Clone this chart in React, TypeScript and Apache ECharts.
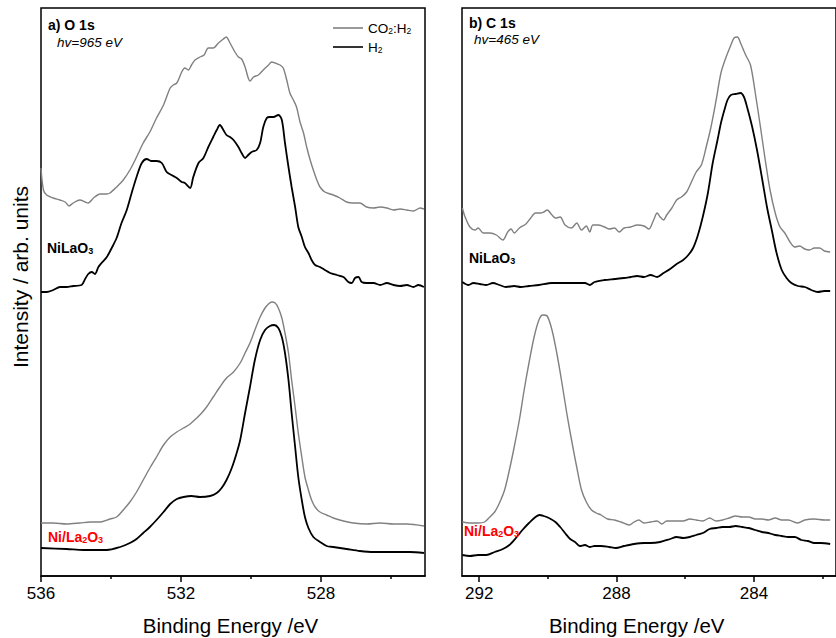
import React, { useEffect, useRef } from "react";
import * as echarts from "echarts";

// ---- Data: [binding energy (eV), intensity (arb. units)] ----
// a) O 1s, NiLaO3 under CO2:H2 (grey)
const o1sCo2NiLaO3: [number, number][] = [
  [536.0, 408], [535.93, 386], [535.84, 381], [535.65, 378], [535.46, 376], [535.31, 374], [535.2, 370], [535.08, 373],
  [534.89, 376], [534.74, 374], [534.65, 373], [534.5, 378], [534.31, 382], [534.12, 382], [534.03, 383], [533.84, 389],
  [533.65, 396], [533.46, 406], [533.27, 419], [533.08, 433], [532.89, 444], [532.7, 458], [532.5, 471], [532.31, 488],
  [532.22, 491], [532.12, 493], [531.98, 504], [531.89, 508], [531.79, 506], [531.7, 511], [531.6, 516], [531.46, 519],
  [531.34, 521], [531.22, 528], [531.08, 528], [530.93, 533], [530.79, 537], [530.71, 539], [530.6, 533], [530.46, 524],
  [530.36, 519], [530.27, 517], [530.17, 509], [530.08, 498], [530.03, 495], [529.93, 499], [529.79, 501], [529.65, 506],
  [529.5, 511], [529.41, 514], [529.31, 513], [529.17, 511], [529.08, 508], [528.98, 496], [528.89, 483], [528.79, 476],
  [528.7, 469], [528.6, 454], [528.5, 443], [528.41, 429], [528.31, 416], [528.22, 406], [528.12, 396], [528.03, 389],
  [527.89, 384], [527.65, 381], [527.46, 378], [527.27, 374], [527.08, 373], [526.89, 373], [526.7, 369], [526.5, 368],
  [526.31, 369], [526.12, 368], [525.93, 366], [525.74, 367], [525.55, 366], [525.36, 365], [525.17, 368], [525.06, 367],
];
// a) O 1s, NiLaO3 under H2 (black)
const o1sH2NiLaO3: [number, number][] = [
  [536.0, 284], [535.84, 284], [535.65, 286], [535.46, 289], [535.27, 289], [535.08, 290], [534.84, 291], [534.74, 297],
  [534.65, 302], [534.55, 304], [534.46, 302], [534.36, 309], [534.27, 313], [534.12, 319], [533.98, 328], [533.84, 338],
  [533.7, 353], [533.55, 366], [533.41, 383], [533.27, 399], [533.12, 413], [532.98, 417], [532.84, 415], [532.7, 415],
  [532.55, 413], [532.41, 404], [532.27, 401], [532.12, 398], [531.98, 394], [531.89, 393], [531.74, 388], [531.65, 399],
  [531.5, 413], [531.36, 418], [531.22, 429], [531.08, 439], [530.98, 446], [530.89, 451], [530.79, 446], [530.7, 441],
  [530.6, 439], [530.5, 436], [530.36, 429], [530.27, 423], [530.17, 418], [530.08, 421], [529.98, 424], [529.84, 426],
  [529.74, 433], [529.65, 449], [529.55, 458], [529.46, 459], [529.36, 459], [529.22, 461], [529.12, 456], [529.03, 433],
  [528.93, 409], [528.84, 389], [528.74, 369], [528.65, 349], [528.55, 339], [528.46, 329], [528.36, 323], [528.27, 316],
  [528.17, 311], [528.03, 309], [527.89, 306], [527.74, 303], [527.55, 301], [527.36, 299], [527.22, 294], [527.12, 293],
  [527.03, 298], [526.93, 299], [526.84, 294], [526.7, 293], [526.5, 293], [526.31, 291], [526.12, 293], [525.93, 291],
  [525.74, 290], [525.55, 291], [525.36, 289], [525.22, 291], [525.06, 289],
];
// a) O 1s, Ni/La2O3 under CO2:H2 (grey)
const o1sCo2NiLa2O3: [number, number][] = [
  [536.0, 53], [535.65, 53], [535.27, 52], [534.89, 53], [534.6, 54], [534.31, 54], [534.03, 57], [533.84, 59],
  [533.65, 66], [533.46, 74], [533.27, 84], [533.08, 96], [532.89, 108], [532.7, 119], [532.5, 131], [532.31, 139],
  [532.12, 144], [531.93, 148], [531.74, 152], [531.55, 158], [531.41, 163], [531.27, 169], [531.08, 179], [530.89, 189],
  [530.7, 198], [530.5, 204], [530.31, 213], [530.17, 223], [530.03, 233], [529.89, 246], [529.74, 259], [529.6, 268],
  [529.5, 272], [529.41, 274], [529.31, 273], [529.22, 268], [529.12, 258], [529.03, 243], [528.93, 223], [528.84, 196],
  [528.74, 169], [528.65, 143], [528.55, 119], [528.46, 99], [528.36, 86], [528.27, 76], [528.17, 69], [528.03, 64],
  [527.84, 61], [527.65, 58], [527.36, 55], [527.08, 53], [526.7, 52], [526.31, 53], [525.93, 52], [525.55, 52],
  [525.06, 50],
];
// a) O 1s, Ni/La2O3 under H2 (black)
const o1sH2NiLa2O3: [number, number][] = [
  [536.0, 28], [535.27, 27], [534.79, 26], [534.12, 26], [533.74, 29], [533.46, 33], [533.27, 37], [533.08, 43],
  [532.89, 49], [532.7, 56], [532.5, 64], [532.31, 72], [532.12, 77], [531.93, 79], [531.7, 80], [531.46, 79],
  [531.17, 80], [530.98, 83], [530.84, 88], [530.7, 96], [530.55, 108], [530.41, 123], [530.31, 136], [530.17, 163],
  [530.03, 189], [529.89, 216], [529.74, 236], [529.6, 246], [529.46, 250], [529.34, 251], [529.22, 248], [529.12, 239],
  [529.03, 223], [528.93, 196], [528.84, 163], [528.74, 129], [528.65, 99], [528.55, 76], [528.46, 59], [528.36, 48],
  [528.22, 39], [528.03, 34], [527.84, 30], [527.65, 29], [527.27, 27], [526.89, 25], [526.5, 24], [525.93, 24],
  [525.46, 24], [525.06, 23],
];
// b) C 1s, NiLaO3 under CO2:H2 (grey)
const c1sCo2NiLaO3: [number, number][] = [
  [292.49, 368], [292.41, 359], [292.27, 349], [292.12, 346], [292.03, 348], [291.88, 343], [291.69, 343], [291.5, 341],
  [291.31, 336], [291.17, 344], [291.07, 347], [290.98, 343], [290.83, 348], [290.64, 352], [290.5, 358], [290.36, 363],
  [290.21, 363], [290.12, 364], [290.02, 366], [289.88, 361], [289.78, 358], [289.64, 359], [289.5, 351], [289.31, 348],
  [289.16, 353], [289.02, 346], [288.88, 350], [288.78, 344], [288.69, 351], [288.54, 351], [288.35, 349], [288.21, 347],
  [288.06, 348], [287.92, 344], [287.78, 348], [287.59, 349], [287.4, 351], [287.2, 350], [287.06, 347], [286.92, 356],
  [286.82, 363], [286.73, 359], [286.63, 356], [286.54, 361], [286.39, 368], [286.25, 376], [286.11, 379], [285.96, 384],
  [285.82, 394], [285.68, 404], [285.53, 411], [285.39, 429], [285.25, 449], [285.1, 476], [284.96, 503], [284.82, 518],
  [284.67, 531], [284.58, 538], [284.48, 539], [284.39, 533], [284.24, 521], [284.1, 511], [283.96, 483], [283.81, 449],
  [283.67, 416], [283.53, 386], [283.38, 363], [283.24, 349], [283.1, 343], [282.95, 334], [282.81, 329], [282.67, 330],
  [282.52, 327], [282.38, 326], [282.24, 328], [282.09, 328], [281.95, 325], [281.78, 324],
];
// b) C 1s, NiLaO3 under H2 (black)
const c1sH2NiLaO3: [number, number][] = [
  [292.49, 294], [292.31, 291], [292.17, 293], [291.98, 292], [291.79, 291], [291.6, 293], [291.41, 291], [291.22, 289],
  [290.98, 290], [290.79, 289], [290.55, 290], [290.26, 291], [289.88, 293], [289.4, 293], [288.92, 293], [288.78, 291],
  [288.64, 294], [288.35, 296], [288.06, 297], [287.78, 298], [287.59, 299], [287.4, 300], [287.2, 299], [287.01, 301],
  [286.82, 299], [286.63, 303], [286.44, 307], [286.25, 312], [286.06, 316], [285.91, 321], [285.77, 328], [285.63, 341],
  [285.49, 359], [285.34, 383], [285.2, 413], [285.06, 436], [284.96, 453], [284.86, 466], [284.77, 476], [284.67, 481],
  [284.53, 482], [284.39, 483], [284.29, 479], [284.2, 469], [284.05, 449], [283.91, 426], [283.77, 399], [283.62, 369],
  [283.48, 346], [283.34, 323], [283.19, 306], [283.05, 298], [282.91, 293], [282.72, 290], [282.52, 289], [282.33, 286],
  [282.14, 284], [281.95, 285], [281.78, 285],
];
// b) C 1s, Ni/La2O3 under CO2:H2 (grey)
const c1sCo2NiLa2O3: [number, number][] = [
  [292.49, 54], [292.27, 53], [292.03, 53], [291.84, 54], [291.69, 59], [291.55, 64], [291.41, 73], [291.26, 86],
  [291.12, 106], [290.98, 129], [290.83, 156], [290.69, 186], [290.55, 213], [290.4, 239], [290.26, 256], [290.15, 261],
  [290.02, 260], [289.88, 246], [289.74, 223], [289.59, 193], [289.45, 163], [289.31, 136], [289.16, 109], [289.02, 86],
  [288.88, 74], [288.73, 66], [288.59, 63], [288.45, 61], [288.26, 57], [288.06, 56], [287.87, 54], [287.63, 51],
  [287.49, 54], [287.35, 56], [287.2, 53], [287.01, 54], [286.82, 55], [286.68, 52], [286.54, 55], [286.34, 55],
  [286.06, 55], [285.87, 57], [285.68, 56], [285.49, 55], [285.29, 58], [285.1, 55], [284.91, 56], [284.72, 58],
  [284.53, 60], [284.34, 59], [284.15, 59], [283.96, 57], [283.77, 57], [283.58, 56], [283.38, 58], [283.19, 56],
  [283.0, 56], [282.72, 53], [282.52, 56], [282.24, 57], [281.95, 56], [281.78, 56],
];
// b) C 1s, Ni/La2O3 under H2 (black)
const c1sH2NiLa2O3: [number, number][] = [
  [292.49, 21], [292.27, 20], [292.03, 21], [291.79, 21], [291.55, 24], [291.31, 27], [291.12, 31], [290.93, 38],
  [290.74, 46], [290.55, 53], [290.36, 59], [290.24, 61], [290.12, 60], [289.97, 58], [289.78, 54], [289.64, 49],
  [289.5, 43], [289.35, 37], [289.21, 34], [289.07, 30], [288.92, 31], [288.78, 29], [288.64, 30], [288.45, 30],
  [288.21, 29], [288.02, 28], [287.78, 30], [287.49, 32], [287.2, 33], [287.01, 33], [286.73, 34], [286.44, 37],
  [286.25, 39], [286.06, 38], [285.87, 39], [285.68, 41], [285.49, 43], [285.29, 47], [285.1, 48], [284.91, 49],
  [284.72, 49], [284.53, 50], [284.34, 49], [284.15, 48], [283.96, 46], [283.77, 44], [283.58, 43], [283.38, 41],
  [283.19, 40], [283.0, 39], [282.81, 39], [282.62, 36], [282.43, 35], [282.24, 33], [282.05, 33], [281.78, 32],
];

// ---- Axes ----
const o1sRange = { min: 525.03, max: 536 };
const c1sRange = { min: 281.61, max: 292.5 };
const o1sMajorTicks = [536, 532, 528];
const o1sMinorTicks = [534, 530, 526];
const c1sMajorTicks = [292, 288, 284];
const c1sMinorTicks = [290, 286, 282];
const intensityRange = { min: 0, max: 568 };

const seriesNames = { co2: "CO2:H2", h2: "H2" };

const FONT = 'Arial, "Liberation Sans", Helvetica, sans-serif';
const GREY = "#808080";
const BLACK = "#000000";
const RED = "#ff0000";

const richBase = {
  n: { fontFamily: FONT, fontSize: 14, fontWeight: "bold" as const, lineHeight: 14 },
  s: { fontFamily: FONT, fontSize: 9, fontWeight: "bold" as const, lineHeight: 5, verticalAlign: "bottom" as const },
};

function richStyle(color: string) {
  return {
    n: { ...richBase.n, fill: color },
    s: { ...richBase.s, fill: color },
  };
}

export default function App() {
  const ref = useRef<HTMLDivElement>(null);

  useEffect(() => {
    if (!ref.current) return;
    const chart = echarts.init(ref.current, undefined, { renderer: "svg" });

    const xMajor = (grid: number, range: { min: number; max: number }, ticks: number[]) => ({
      type: "value" as const,
      gridIndex: grid,
      inverse: true,
      min: range.min,
      max: range.max,
      position: "bottom" as const,
      axisLine: { show: true, onZero: false, lineStyle: { color: BLACK, width: 1.5 } },
      axisTick: { show: true, inside: false, length: 6, customValues: ticks, lineStyle: { color: BLACK, width: 1.5 } },
      axisLabel: { show: true, customValues: ticks, margin: 9, fontSize: 17, fontFamily: FONT, color: BLACK },
      splitLine: { show: false },
    });
    const xMinor = (grid: number, range: { min: number; max: number }, ticks: number[]) => ({
      type: "value" as const,
      gridIndex: grid,
      inverse: true,
      min: range.min,
      max: range.max,
      position: "bottom" as const,
      axisLine: { show: false, onZero: false },
      axisTick: { show: true, inside: false, length: 3, customValues: ticks, lineStyle: { color: BLACK, width: 1.5 } },
      axisLabel: { show: false },
      splitLine: { show: false },
    });
    const yAx = (grid: number) => ({
      type: "value" as const,
      gridIndex: grid,
      min: intensityRange.min,
      max: intensityRange.max,
      axisLine: { show: false },
      axisTick: { show: false },
      axisLabel: { show: false },
      splitLine: { show: false },
    });

    const line = (
      name: string,
      data: [number, number][],
      xi: number,
      yi: number,
      color: string,
      width: number
    ) => ({
      type: "line" as const,
      name,
      data,
      xAxisIndex: xi,
      yAxisIndex: yi,
      symbol: "none",
      smooth: 0.3,
      clip: true,
      lineStyle: { color, width },
      itemStyle: { color },
      emphasis: { disabled: true },
      z: color === BLACK ? 3 : 2,
    });

    const label = (x: number, y: number, text: string, color: string) => ({
      type: "text" as const,
      x,
      y,
      z: 10,
      style: {
        text,
        align: "left",
        verticalAlign: "middle",
        rich: richStyle(color),
      },
    });

    const plain = (x: number, y: number, text: string, extra: Record<string, unknown>) => ({
      type: "text" as const,
      x,
      y,
      z: 10,
      style: {
        text,
        fill: BLACK,
        fontFamily: FONT,
        align: "left",
        verticalAlign: "middle",
        ...extra,
      },
    });

    chart.setOption({
      animation: false,
      backgroundColor: "#ffffff",
      grid: [
        { left: 41, top: 8, width: 384, height: 568, show: true, borderColor: BLACK, borderWidth: 1.5, backgroundColor: "transparent" },
        { left: 462, top: 8, width: 380, height: 568, show: true, borderColor: BLACK, borderWidth: 1.5, backgroundColor: "transparent" },
      ],
      xAxis: [
        xMajor(0, o1sRange, o1sMajorTicks),
        xMinor(0, o1sRange, o1sMinorTicks),
        xMajor(1, c1sRange, c1sMajorTicks),
        xMinor(1, c1sRange, c1sMinorTicks),
      ],
      yAxis: [yAx(0), yAx(1)],
      legend: {
        data: [
          { name: seriesNames.co2, icon: "rect", itemStyle: { color: GREY } },
          { name: seriesNames.h2, icon: "rect", itemStyle: { color: BLACK } },
        ],
        orient: "vertical",
        left: 333,
        top: 21,
        padding: 0,
        itemWidth: 30,
        itemHeight: 1.6,
        itemGap: 5,
        selectedMode: false,
        formatter: (name: string) =>
          name === seriesNames.co2 ? "{n|CO}{s|2}{n|:H}{s|2}" : "{n|H}{s|2}",
        textStyle: {
          color: BLACK,
          fontFamily: FONT,
          fontSize: 13.5,
          rich: {
            n: { fontFamily: FONT, fontSize: 13.5, color: BLACK, lineHeight: 14 },
            s: { fontFamily: FONT, fontSize: 8.5, color: BLACK, lineHeight: 5, verticalAlign: "bottom" },
          },
        },
      },
      series: [
        line(seriesNames.co2, o1sCo2NiLaO3, 0, 0, GREY, 1.4),
        line(seriesNames.h2, o1sH2NiLaO3, 0, 0, BLACK, 1.8),
        line(seriesNames.co2, o1sCo2NiLa2O3, 0, 0, GREY, 1.4),
        line(seriesNames.h2, o1sH2NiLa2O3, 0, 0, BLACK, 1.8),
        line(seriesNames.co2, c1sCo2NiLaO3, 2, 1, GREY, 1.4),
        line(seriesNames.h2, c1sH2NiLaO3, 2, 1, BLACK, 1.8),
        line(seriesNames.co2, c1sCo2NiLa2O3, 2, 1, GREY, 1.4),
        line(seriesNames.h2, c1sH2NiLa2O3, 2, 1, BLACK, 1.8),
      ],
      graphic: [
        plain(48, 25, "a) O 1s", { fontSize: 14, fontWeight: "bold" }),
        plain(57, 42.5, "hv=965 eV", { fontSize: 13.5, fontStyle: "italic" }),
        plain(469, 22.5, "b) C 1s", { fontSize: 14, fontWeight: "bold" }),
        plain(474, 39.5, "hv=465 eV", { fontSize: 13.5, fontStyle: "italic" }),
        label(47, 248, "{n|NiLaO}{s|3}", BLACK),
        label(469, 258, "{n|NiLaO}{s|3}", BLACK),
        label(48, 537, "{n|Ni/La}{s|2}{n|O}{s|3}", RED),
        label(464, 531, "{n|Ni/La}{s|2}{n|O}{s|3}", RED),
        plain(230.5, 625.5, "Binding Energy /eV", { fontSize: 20.5, align: "center" }),
        plain(636.7, 625.5, "Binding Energy /eV", { fontSize: 20.5, align: "center" }),
        {
          type: "text",
          x: 20,
          y: 277,
          rotation: Math.PI / 2,
          z: 10,
          style: {
            text: "Intensity / arb. units",
            fill: BLACK,
            fontFamily: FONT,
            fontSize: 21,
            align: "center",
            verticalAlign: "middle",
          },
        },
      ],
    });

    return () => chart.dispose();
  }, []);

  return (
    <div
      ref={ref}
      style={{ position: "absolute", left: 0, top: 0, width: 836, height: 638, background: "#fff" }}
    />
  );
}
